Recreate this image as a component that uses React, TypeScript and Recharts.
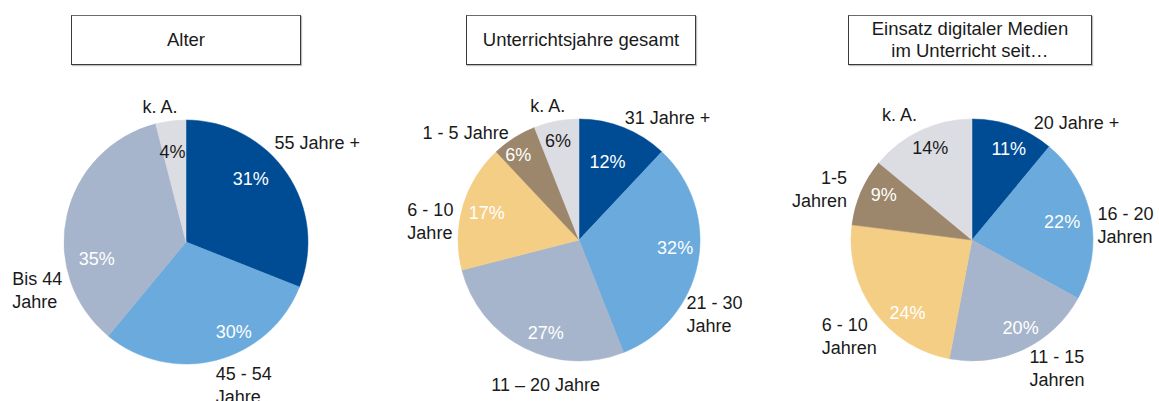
import React from "react";
import { PieChart, Pie, Cell } from "recharts";

// Alter
const alterNames = ["55 Jahre +", "45 - 54\nJahre", "Bis 44\nJahre", "k. A."];
const alterValues = [31, 30, 35, 4];

// Unterrichtsjahre gesamt
const jahreNames = ["31 Jahre +", "21 - 30\nJahre", "11 \u2013 20 Jahre", "6 - 10\nJahre", "1 - 5 Jahre", "k. A."];
const jahreValues = [12, 32, 27, 17, 6, 6];

// Einsatz digitaler Medien im Unterricht seit...
const medienNames = ["20 Jahre +", "16 - 20\nJahren", "11 - 15\nJahren", "6 - 10\nJahren", "1-5\nJahren", "k. A."];
const medienValues = [11, 22, 20, 24, 9, 14];

const titles = ["Alter", "Unterrichtsjahre gesamt", "Einsatz digitaler Medien\nim Unterricht seit\u2026"];

const DARK = "#004C94";
const LIGHT = "#6AAADC";
const GREY = "#A6B5CC";
const KA = "#DCDDE2";
const YELLOW = "#F5CE86";
const BROWN = "#9C876C";

const FONT = '"Liberation Sans", Arial, sans-serif';
const FS = 18;
const LH = 23;

type Nudge = [number, number];

// label placement tweaks (outer category label / inner percentage)
const alterOuter: Nudge[] = [[-24, -23], [-4, 0], [-41, 67], [-9, 0]];
const alterInner: Nudge[] = [[-11, -12], [25, 1], [0, 37], [-2, 1]];
const alterAnchor = ["start", "start", "start", "middle"];

const jahreOuter: Nudge[] = [[-4, 4], [-25, 38], [28, 25], [-42, 8], [2, 7], [-6, -1]];
const jahreInner: Nudge[] = [[-5, 6], [7, -9], [8, 12], [-5, -2], [-12, -8], [-4, -10]];
const jahreAnchor = ["start", "start", "middle", "start", "end", "middle"];

const medienOuter: Nudge[] = [[16, 10], [-7, -1], [0, -5], [-41, 6], [-1, -8], [-15, -3]];
const medienInner: Nudge[] = [[6, -6], [1, -1], [10, 6], [9, 20], [-5, -9], [-3, -10]];
const medienAnchor = ["start", "start", "start", "start", "end", "middle"];

const makeData = (names: string[], values: number[]) => names.map((name, i) => ({ name, value: values[i] }));

const makeLabel = (outer: Nudge[], inner: Nudge[], anchors: string[], darkIdx: number) => (props: any) => {
  const { cx, cy, midAngle, outerRadius, index, payload, value } = props;
  const rad = Math.PI / 180;
  const ca = Math.cos(-midAngle * rad);
  const sa = Math.sin(-midAngle * rad);
  const ox = cx + (outerRadius + 14) * ca + outer[index][0];
  const oy = cy + (outerRadius + 14) * sa + outer[index][1];
  const ix = cx + outerRadius * 0.75 * ca + inner[index][0];
  const iy = cy + outerRadius * 0.75 * sa + inner[index][1];
  const lines = String(payload.name ?? props.name).split("\n");
  return (
    <g>
      <text x={ix} y={iy} textAnchor="middle" dominantBaseline="central" fontFamily={FONT} fontSize={FS} fill={index === darkIdx ? "#1a1a1a" : "#ffffff"}>
        {value}%
      </text>
      <text x={ox} y={oy} textAnchor={anchors[index] as any} dominantBaseline="central" fontFamily={FONT} fontSize={FS} fill="#1a1a1a">
        {lines.map((l, k) => (
          <tspan key={k} x={ox} dy={k === 0 ? 0 : LH}>{l}</tspan>
        ))}
      </text>
    </g>
  );
};

const boxes = [
  { left: 71, width: 230 },
  { left: 466, width: 230 },
  { left: 848, width: 244 },
];

export default function App() {
  const pies = [
    { data: makeData(alterNames, alterValues), colors: [DARK, LIGHT, GREY, KA], cx: 186, cy: 242, r: 122, label: makeLabel(alterOuter, alterInner, alterAnchor, 3) },
    { data: makeData(jahreNames, jahreValues), colors: [DARK, LIGHT, GREY, YELLOW, BROWN, KA], cx: 579, cy: 240, r: 121, label: makeLabel(jahreOuter, jahreInner, jahreAnchor, 5) },
    { data: makeData(medienNames, medienValues), colors: [DARK, LIGHT, GREY, YELLOW, BROWN, KA], cx: 972, cy: 240, r: 121, label: makeLabel(medienOuter, medienInner, medienAnchor, 5) },
  ];

  return (
    <div style={{ position: "absolute", left: 0, top: 0, width: 1159, height: 401, background: "#fff", overflow: "hidden", fontFamily: FONT }}>
      {titles.map((t, i) => (
        <div
          key={i}
          style={{
            position: "absolute",
            left: boxes[i].left,
            top: 15,
            width: boxes[i].width,
            height: 50,
            boxSizing: "border-box",
            border: "1.5px solid #3a3a3a",
            borderTopColor: "#6a6a6a",
            boxShadow: "1px 1px 1px rgba(0,0,0,0.25)",
            display: "flex",
            alignItems: "center",
            justifyContent: "center",
            textAlign: "center",
            fontSize: 18.5,
            lineHeight: "22px",
            color: "#1a1a1a",
            whiteSpace: "pre-line",
          }}
        >
          {t}
        </div>
      ))}
      <div style={{ position: "absolute", left: 0, top: 0 }}>
        <PieChart width={1159} height={401} margin={{ top: 0, right: 0, bottom: 0, left: 0 }}>
          {pies.map((p, i) => (
            <Pie
              key={i}
              data={p.data}
              dataKey="value"
              nameKey="name"
              cx={p.cx}
              cy={p.cy}
              outerRadius={p.r}
              startAngle={90}
              endAngle={-270}
              label={p.label}
              labelLine={false}
              isAnimationActive={false}
            >
              {p.data.map((d, k) => (
                <Cell key={d.name} fill={p.colors[k]} stroke={p.colors[k]} strokeWidth={0.5} />
              ))}
            </Pie>
          ))}
        </PieChart>
      </div>
    </div>
  );
}
